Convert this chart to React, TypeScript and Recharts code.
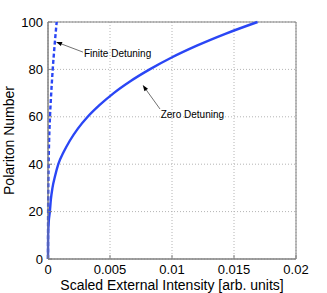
import React from "react";
import {
  LineChart,
  Line,
  XAxis,
  YAxis,
  CartesianGrid,
  ReferenceLine,
  ReferenceDot,
  ReferenceArea,
} from "recharts";

// polariton number (y) read against scaled intensity (x)
const ZERO_Y = [0, 10, 15, 20, 25, 30, 35, 40, 45, 50, 55, 60, 65, 70, 75, 80, 85, 90, 95, 100];
const ZERO_X = [
  0, 0.00001, 0.00005, 0.00015, 0.00023, 0.00036, 0.00057, 0.00083, 0.00125, 0.00177,
  0.00241, 0.0032, 0.00417, 0.0053, 0.00664, 0.0082, 0.00997, 0.012, 0.0143, 0.0169,
];
const FINITE_Y = [0, 20, 40, 50, 60, 70, 80, 90, 100];
const FINITE_X = [0, 0.00001, 0.00005, 0.00009, 0.00016, 0.00026, 0.00038, 0.00053, 0.0007];

const X_TICKS = [0, 0.005, 0.01, 0.015, 0.02];
const Y_TICKS = [0, 20, 40, 60, 80, 100];

// annotations: [label, text x, text y, arrow tail x, tail y, head x, head y]
const NOTES: [string, number, number, number, number, number, number][] = [
  ["Finite Detuning", 0.0029, 86.9, 0.00282, 87.3, 0.00065, 91.6],
  ["Zero Detuning", 0.00909, 60.8, 0.00903, 63.3, 0.00764, 73.4],
];

const zeroData = ZERO_X.map((x, i) => ({ x, y: ZERO_Y[i] }));
const finiteData = FINITE_X.map((x, i) => ({ x, y: FINITE_Y[i] }));

const FONT = '"Liberation Sans", Arial, Helvetica, sans-serif';
const AXIS = "#808080";
const BLUE = "#2a46f5";

const Arrow = (props: any) => {
  const { x1, y1, x2, y2 } = props;
  const ang = Math.atan2(y2 - y1, x2 - x1);
  const len = 6;
  const w = 2.2;
  const bx = x2 - len * Math.cos(ang);
  const by = y2 - len * Math.sin(ang);
  const px = -Math.sin(ang) * w;
  const py = Math.cos(ang) * w;
  return (
    <g>
      <line x1={x1} y1={y1} x2={bx} y2={by} stroke="#333" strokeWidth={0.7} />
      <polygon points={`${x2},${y2} ${bx + px},${by + py} ${bx - px},${by - py}`} fill="#000" />
    </g>
  );
};

export default function App() {
  return (
    <div style={{ position: "absolute", left: 0, top: 0, background: "#fff" }}>
      <LineChart
        width={327}
        height={293}
        margin={{ top: 22, right: 31, bottom: 0, left: 0 }}
        style={{ fontFamily: FONT }}
      >
        <CartesianGrid stroke="#b4b4b4" strokeDasharray="1 2" />
        <XAxis
          type="number"
          dataKey="x"
          domain={[0, 0.02]}
          ticks={X_TICKS}
          height={34}
          tickSize={-4}
          tickMargin={10}
          stroke={AXIS}
          tick={{ fill: "#000", fontSize: 13 }}
          label={{
            value: "Scaled External Intensity [arb. units]",
            position: "insideBottom",
            offset: 3,
            fill: "#000",
            fontSize: 14,
          }}
        />
        <XAxis
          xAxisId="top"
          orientation="top"
          type="number"
          domain={[0, 0.02]}
          ticks={X_TICKS}
          height={0}
          tickSize={-4}
          stroke={AXIS}
          tickFormatter={() => ""}
        />
        <YAxis
          type="number"
          domain={[0, 100]}
          ticks={Y_TICKS}
          width={48}
          tickSize={-4}
          tickMargin={9}
          stroke={AXIS}
          tick={{ fill: "#000", fontSize: 13 }}
          label={{
            value: "Polariton Number",
            angle: -90,
            position: "insideLeft",
            offset: 9,
            fill: "#000",
            fontSize: 14,
            style: { textAnchor: "middle" },
          }}
        />
        <YAxis
          yAxisId="right"
          orientation="right"
          type="number"
          domain={[0, 100]}
          ticks={Y_TICKS}
          width={0}
          tickSize={-4}
          stroke={AXIS}
          tickFormatter={() => ""}
        />
        <ReferenceArea
          x1={0}
          x2={0.02}
          y1={0}
          y2={100}
          fill="none"
          fillOpacity={0}
          stroke={AXIS}
          strokeWidth={1}
        />
        <Line
          data={finiteData}
          dataKey="y"
          type="monotone"
          stroke={BLUE}
          strokeWidth={2.4}
          strokeDasharray="4 2.5"
          dot={false}
          isAnimationActive={false}
        />
        <Line
          data={zeroData}
          dataKey="y"
          type="monotone"
          stroke={BLUE}
          strokeWidth={2.4}
          dot={false}
          isAnimationActive={false}
        />
        {NOTES.map(([label, tx, ty, ax, ay, hx, hy]) => (
          <ReferenceLine
            key={label + "-arrow"}
            segment={[
              { x: ax, y: ay },
              { x: hx, y: hy },
            ]}
            shape={Arrow}
          />
        ))}
        {NOTES.map(([label, tx, ty]) => (
          <ReferenceDot
            key={label}
            x={tx}
            y={ty}
            shape={(p: any) => (
              <text
                x={p.cx}
                y={p.cy}
                dy="0.35em"
                fontSize={10}
                fontFamily={FONT}
                fill="#000"
              >
                {label}
              </text>
            )}
          />
        ))}
      </LineChart>
    </div>
  );
}
